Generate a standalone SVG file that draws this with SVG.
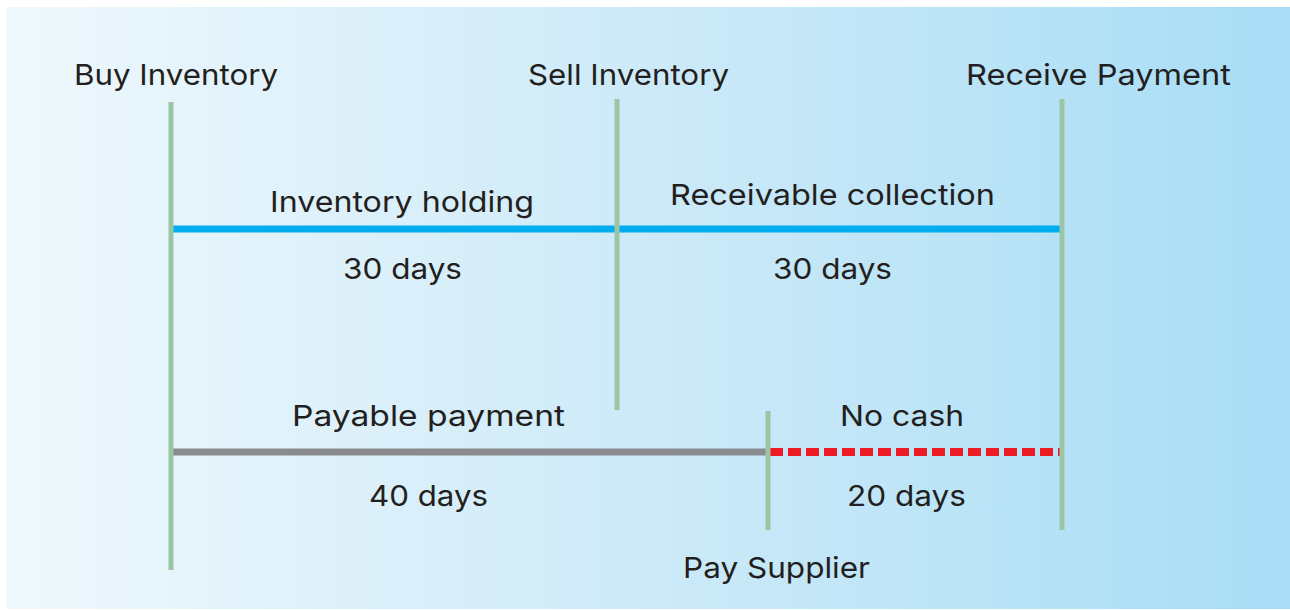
<svg xmlns="http://www.w3.org/2000/svg" width="1290" height="610" viewBox="0 0 1290 610">
<defs>
<linearGradient id="bg" x1="0" y1="0" x2="1" y2="0">
<stop offset="0" stop-color="#eff8fd"/>
<stop offset="0.5" stop-color="#cdeaf8"/>
<stop offset="1" stop-color="#a8ddf6"/>
</linearGradient>
</defs>
<style>
text{font-family:Inter,"Liberation Sans",sans-serif;font-size:29px;fill:#231f20;text-anchor:middle}
.tick{stroke:#9cc5a5;stroke-width:5;fill:none}
.blue{stroke:#00aeef;stroke-width:7}
.grey{stroke:#898b8e;stroke-width:7}
.red{stroke:#ed1c24;stroke-width:8;stroke-dasharray:13 5}
</style>
<rect x="0" y="0" width="1290" height="610" fill="#ffffff"/>
<rect x="6" y="7" width="1284" height="602" fill="url(#bg)"/>
<g id="connectors">
<line class="blue" x1="171" y1="229" x2="1062" y2="229"/>
<line class="grey" x1="171" y1="452" x2="768" y2="452"/>
<line class="red" x1="770" y1="452" x2="1062" y2="452"/>
</g>
<g id="buy-inventory">
<line class="tick" x1="171" y1="102" x2="171" y2="570"/>
<text x="176" y="85" textLength="204" lengthAdjust="spacingAndGlyphs">Buy Inventory</text>
</g>
<g id="sell-inventory">
<line class="tick" x1="617" y1="99" x2="617" y2="410"/>
<text x="628.5" y="85" textLength="201" lengthAdjust="spacingAndGlyphs">Sell Inventory</text>
</g>
<g id="receive-payment">
<line class="tick" x1="1062" y1="99" x2="1062" y2="530"/>
<text x="1098.5" y="85" textLength="265" lengthAdjust="spacingAndGlyphs">Receive Payment</text>
</g>
<g id="pay-supplier">
<line class="tick" x1="768" y1="411" x2="768" y2="530"/>
<text x="776.5" y="578" textLength="187" lengthAdjust="spacingAndGlyphs">Pay Supplier</text>
</g>
<g id="inventory-holding">
<text x="402" y="212" textLength="264" lengthAdjust="spacingAndGlyphs">Inventory holding</text>
<text x="402.5" y="279" textLength="119" lengthAdjust="spacingAndGlyphs">30 days</text>
</g>
<g id="receivable-collection">
<text x="832.5" y="205" textLength="325" lengthAdjust="spacingAndGlyphs">Receivable collection</text>
<text x="832.5" y="279" textLength="119" lengthAdjust="spacingAndGlyphs">30 days</text>
</g>
<g id="payable-payment">
<text x="428.5" y="426" textLength="273" lengthAdjust="spacingAndGlyphs">Payable payment</text>
<text x="428.5" y="506" textLength="119" lengthAdjust="spacingAndGlyphs">40 days</text>
</g>
<g id="no-cash">
<text x="902" y="426" textLength="124" lengthAdjust="spacingAndGlyphs">No cash</text>
<text x="906.5" y="506" textLength="119" lengthAdjust="spacingAndGlyphs">20 days</text>
</g>
</svg>
